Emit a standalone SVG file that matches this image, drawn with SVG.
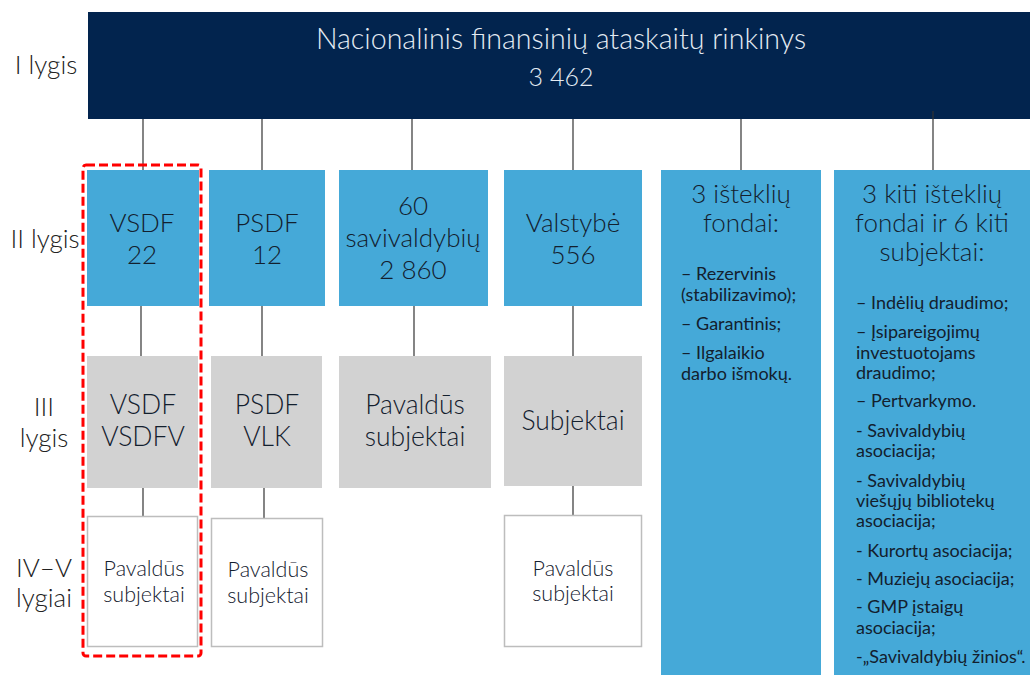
<svg xmlns="http://www.w3.org/2000/svg" width="1030" height="675" viewBox="0 0 1030 675">
<style>
text{font-family:Lato,"Open Sans","Noto Sans",sans-serif;font-weight:300;fill:#13202e}
.t{text-anchor:middle}
.l2{font-size:26px}
.l3{font-size:26.5px}
.l4{font-size:21.5px}
.li{font-size:18px;font-weight:400}
.lbl{font-size:26px;text-anchor:middle;fill:#222}
.hd{fill:#e4ebf3;text-anchor:middle}
.blue{fill:#45a9d8}
.grey{fill:#d2d2d2}
.white{fill:#fff;stroke:#bdbdbd;stroke-width:1.5}
.c line{stroke:#333;stroke-width:1.2}
</style>
<rect width="1030" height="675" fill="#fff"/>
<g id="labels">
<text class="lbl" x="46" y="74">I lygis</text>
<text class="lbl" x="45" y="248">II lygis</text>
<text class="lbl" x="44" y="416">III</text>
<text class="lbl" x="44" y="447">lygis</text>
<text class="lbl" x="44" y="577">IV–V</text>
<text class="lbl" x="44" y="607">lygiai</text>
</g>
<g id="top">
<rect x="88" y="12" width="942" height="107" fill="#02244e"/>
<text class="hd" x="561" y="49" font-size="28.6">Nacionalinis finansinių ataskaitų rinkinys</text>
<text class="hd" x="561" y="86" font-size="25">3 462</text>
</g>
<g class="c" id="connectors">
<line x1="143" y1="119" x2="143" y2="170"/>
<line x1="262" y1="119" x2="262" y2="170"/>
<line x1="412" y1="119" x2="412" y2="170"/>
<line x1="573" y1="119" x2="573" y2="170"/>
<line x1="741" y1="119" x2="741" y2="170"/>
<line x1="933" y1="111" x2="933" y2="170"/>
<line x1="141" y1="306" x2="141" y2="356"/>
<line x1="262" y1="306" x2="262" y2="356"/>
<line x1="414" y1="306" x2="414" y2="356"/>
<line x1="573" y1="306" x2="573" y2="356"/>
<line x1="143" y1="488" x2="143" y2="516"/>
<line x1="264" y1="488" x2="264" y2="518"/>
<line x1="573" y1="486" x2="573" y2="515"/>
</g>
<g id="vsdf">
<rect class="blue" x="87" y="170" width="112" height="136"/>
<text class="l2 t" x="142" y="232">VSDF</text>
<text class="l2 t" x="142" y="264">22</text>
</g>
<g id="psdf">
<rect class="blue" x="209" y="170" width="116" height="136"/>
<text class="l2 t" x="267" y="232">PSDF</text>
<text class="l2 t" x="267" y="264">12</text>
</g>
<g id="sav">
<rect class="blue" x="339" y="170" width="149" height="136"/>
<text class="l2 t" x="413" y="215">60</text>
<text class="l2 t" x="413" y="247">savivaldybių</text>
<text class="l2 t" x="413" y="279">2 860</text>
</g>
<g id="valst">
<rect class="blue" x="504" y="170" width="138" height="136"/>
<text class="l2 t" x="573" y="232">Valstybė</text>
<text class="l2 t" x="573" y="264">556</text>
</g>
<g id="fondai">
<rect class="blue" x="661" y="170" width="160" height="505"/>
<text class="l2 t" x="741" y="203">3 išteklių</text>
<text class="l2 t" x="741" y="232">fondai:</text>
<text class="li" x="681" y="280">– Rezervinis</text>
<text class="li" x="681" y="301">(stabilizavimo);</text>
<text class="li" x="681" y="330">– Garantinis;</text>
<text class="li" x="681" y="359">– Ilgalaikio</text>
<text class="li" x="681" y="380">darbo išmokų.</text>
</g>
<g id="kiti">
<rect class="blue" x="834" y="170" width="196" height="505"/>
<text class="l2 t" x="932" y="203">3 kiti išteklių</text>
<text class="l2 t" x="932" y="232">fondai ir 6 kiti</text>
<text class="l2 t" x="932" y="261">subjektai:</text>
<text class="li" x="856" y="309">– Indėlių draudimo;</text>
<text class="li" x="856" y="338">– Įsipareigojimų</text>
<text class="li" x="856" y="359">investuotojams</text>
<text class="li" x="856" y="379">draudimo;</text>
<text class="li" x="856" y="407">– Pertvarkymo.</text>
<text class="li" x="856" y="437">- Savivaldybių</text>
<text class="li" x="856" y="457">asociacija;</text>
<text class="li" x="856" y="487">- Savivaldybių</text>
<text class="li" x="856" y="507">viešųjų bibliotekų</text>
<text class="li" x="856" y="527">asociacija;</text>
<text class="li" x="856" y="557">- Kurortų asociacija;</text>
<text class="li" x="856" y="585">- Muziejų asociacija;</text>
<text class="li" x="856" y="613">- GMP įstaigų</text>
<text class="li" x="856" y="634">asociacija;</text>
<text class="li" x="856" y="663">-„Savivaldybių žinios“.</text>
</g>
<g id="vsdf3">
<rect class="grey" x="87" y="356" width="111" height="132"/>
<text class="l3 t" x="143" y="414">VSDF</text>
<text class="l3 t" x="143" y="446">VSDFV</text>
</g>
<g id="psdf3">
<rect class="grey" x="211" y="356" width="111" height="132"/>
<text class="l3 t" x="267" y="414">PSDF</text>
<text class="l3 t" x="267" y="446">VLK</text>
</g>
<g id="sav3">
<rect class="grey" x="339" y="356" width="152" height="132"/>
<text class="l3 t" x="415" y="414">Pavaldūs</text>
<text class="l3 t" x="415" y="446">subjektai</text>
</g>
<g id="valst3">
<rect class="grey" x="504" y="356" width="138" height="130"/>
<text class="l3 t" x="573" y="430">Subjektai</text>
</g>
<g id="vsdf4">
<rect class="white" x="87.5" y="516.5" width="110" height="130"/>
<text class="l4 t" x="144" y="576">Pavaldūs</text>
<text class="l4 t" x="144" y="602">subjektai</text>
</g>
<g id="psdf4">
<rect class="white" x="211.5" y="518.5" width="111" height="128"/>
<text class="l4 t" x="268" y="577">Pavaldūs</text>
<text class="l4 t" x="268" y="603">subjektai</text>
</g>
<g id="valst4">
<rect class="white" x="504.5" y="515.5" width="137" height="131"/>
<text class="l4 t" x="573" y="576">Pavaldūs</text>
<text class="l4 t" x="573" y="601">subjektai</text>
</g>
<rect id="highlight" x="83" y="165" width="118" height="491" rx="3" fill="none" stroke="#ff0000" stroke-width="3" stroke-dasharray="9,4"/>
</svg>
